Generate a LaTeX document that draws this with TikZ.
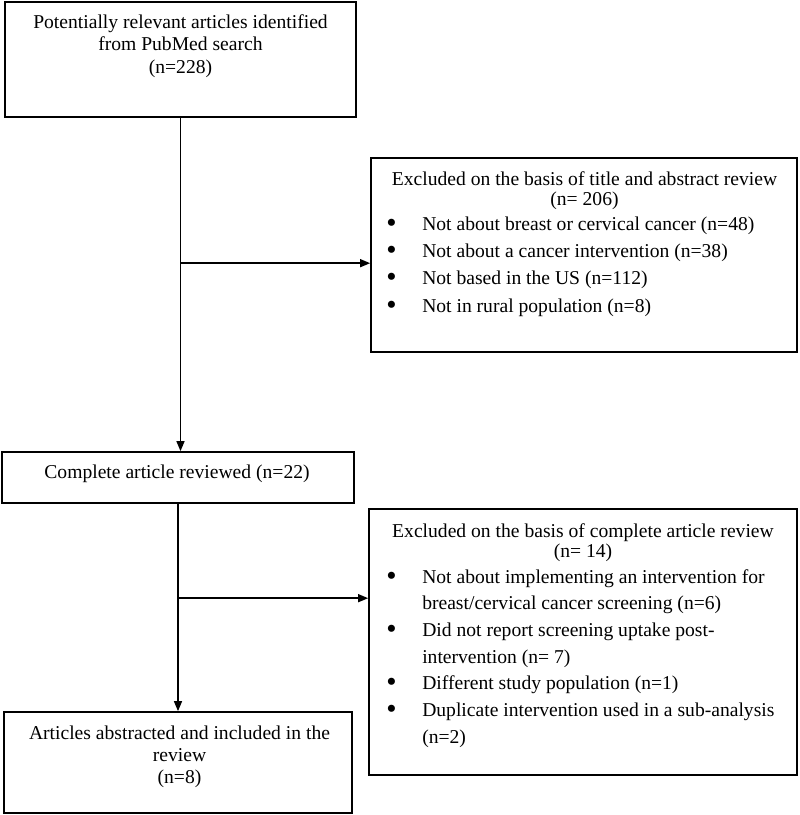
\documentclass[tikz,border=0pt]{standalone}
\usepackage{fontspec}
\setmainfont{Liberation Serif}
\usetikzlibrary{arrows.meta,positioning,calc}

\tikzset{
  box/.style={draw, line width=1.3pt, inner sep=0pt},
  flow/.style={line width=1.1pt, -{Triangle[length=7.5pt,width=6pt]}},
  txt/.style={anchor=base, inner sep=0pt},
  lst/.style={anchor=base west, inner sep=0pt},
}
\newcommand{\bl}{\raisebox{-1.5pt}{\scalebox{1.5}{\textbullet}}}

\begin{document}
\begin{tikzpicture}[x=0.75pt,y=-0.75pt]
  \useasboundingbox (0,0) rectangle (800,815);
  % boxes
  \node[box, minimum width=263.25pt, minimum height=86.25pt] (search) at (180.5,59.5) {};
  \node[box, minimum width=319.5pt, minimum height=145.5pt] (excl1) at (584,255) {};
  \node[box, minimum width=264pt, minimum height=38.25pt] (full) at (178,477.5) {};
  \node[box, minimum width=321pt, minimum height=199.5pt] (excl2) at (583,642) {};
  \node[box, minimum width=261pt, minimum height=75.75pt] (incl) at (178,762.5) {};
  % texts
  \node[txt, font=\fontsize{14.7}{16.9}\selectfont] (searchtxt) at (180.5,28)
    {\begin{tabular}[t]{@{}c@{}}Potentially relevant articles identified\\from PubMed search\\(n=228)\end{tabular}};
  \node[txt, font=\fontsize{14.7}{15}\selectfont] (excl1hd) at (584.5,185)
    {\begin{tabular}[t]{@{}c@{}}Excluded on the basis of title and abstract review\\(n= 206)\end{tabular}};
  \node[lst, font=\fontsize{14.7}{20.5}\selectfont] (excl1lst) at (386,230)
    {\begin{tabular}[t]{@{}p{27pt}@{}l@{}}
      \bl & Not about breast or cervical cancer (n=48)\\
      \bl & Not about a cancer intervention (n=38)\\
      \bl & Not based in the US (n=112)\\
      \bl & Not in rural population (n=8)
    \end{tabular}};
  \node[txt, font=\fontsize{14.7}{15}\selectfont] (fulltxt) at (177,478) {Complete article reviewed (n=22)};
  \node[txt, font=\fontsize{14.7}{15}\selectfont] (excl2hd) at (583,537)
    {\begin{tabular}[t]{@{}c@{}}Excluded on the basis of complete article review\\(n= 14)\end{tabular}};
  \node[lst, font=\fontsize{14.7}{20}\selectfont] (excl2lst) at (386,583)
    {\begin{tabular}[t]{@{}p{27pt}@{}l@{}}
      \bl & Not about implementing an intervention for\\
          & breast/cervical cancer screening (n=6)\\
      \bl & Did not report screening uptake post-\\
          & intervention (n= 7)\\
      \bl & Different study population (n=1)\\
      \bl & Duplicate intervention used in a sub-analysis\\
          & (n=2)
    \end{tabular}};
  \node[txt, font=\fontsize{14.7}{16.5}\selectfont] (incltxt) at (179.5,739)
    {\begin{tabular}[t]{@{}c@{}}Articles abstracted and included in the\\review\\(n=8)\end{tabular}};
  % arrows
  \draw[flow] (search.south) -- (search.south |- full.north);
  \coordinate (b1) at ($(search.south)!0.436!(search.south |- full.north)$);
  \draw[flow] (b1) -- (b1 -| excl1.west);
  \draw[flow] (full.south) -- (full.south |- incl.north);
  \coordinate (b2) at ($(full.south)!0.455!(full.south |- incl.north)$);
  \draw[flow] (b2) -- (b2 -| excl2.west);
\end{tikzpicture}
\end{document}
